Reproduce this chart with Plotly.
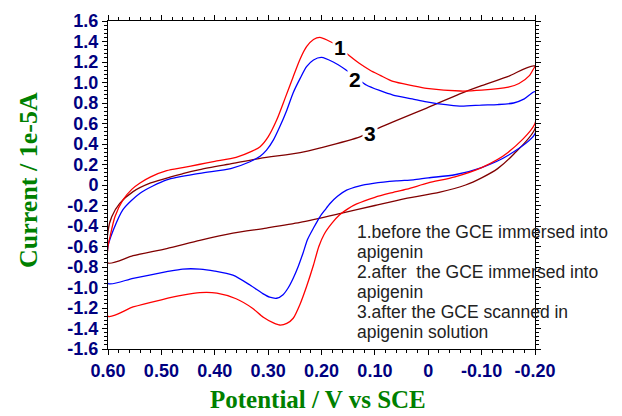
import plotly.graph_objects as go

# ---------------- data (potential in V vs SCE, current in 1e-5 A) ----------------
red_fwd_E = [0.6, 0.553, 0.5, 0.46, 0.428, 0.396, 0.36, 0.33, 0.309, 0.29, 0.278, 0.265, 0.253, 0.24,
             0.228, 0.215, 0.205, 0.195, 0.18, 0.166, 0.15, 0.134, 0.1, 0.072, 0.04, 0.0,
             -0.05, -0.1, -0.15, -0.2]
red_fwd_I = [-1.28, -1.19, -1.12, -1.075, -1.05, -1.055, -1.11, -1.2, -1.29, -1.345, -1.366, -1.35, -1.3,
             -1.16, -0.99, -0.78, -0.6, -0.48, -0.37, -0.29, -0.23, -0.185, -0.12, -0.08, -0.04, 0.02,
             0.08, 0.17, 0.32, 0.6]
red_rev_E = [-0.2, -0.19, -0.17, -0.15, -0.1, -0.06, 0.003, 0.03, 0.066, 0.09, 0.109, 0.13, 0.15, 0.17,
             0.188, 0.203, 0.215, 0.228, 0.24, 0.253, 0.268, 0.284, 0.3, 0.315, 0.33, 0.36, 0.4, 0.43,
             0.46, 0.49, 0.52, 0.54, 0.555, 0.572, 0.587, 0.596, 0.6]
red_rev_I = [1.15, 1.07, 0.99, 0.955, 0.925, 0.917, 0.943, 0.97, 1.01, 1.07, 1.12, 1.19, 1.27, 1.36,
             1.41, 1.44, 1.42, 1.35, 1.23, 1.057, 0.85, 0.634, 0.47, 0.374, 0.33, 0.27, 0.23, 0.2,
             0.17, 0.14, 0.08, 0.02, -0.04, -0.146, -0.31, -0.5, -0.6]

blue_fwd_E = [0.6, 0.553, 0.49, 0.46, 0.428, 0.4, 0.366, 0.334, 0.31, 0.297, 0.284, 0.272, 0.262, 0.253,
              0.244, 0.235, 0.226, 0.215, 0.203, 0.193, 0.184, 0.17, 0.153, 0.13, 0.103, 0.06, 0.028, 0.0,
              -0.05, -0.1, -0.15, -0.2]
blue_fwd_I = [-0.96, -0.91, -0.846, -0.82, -0.82, -0.84, -0.88, -0.976, -1.06, -1.095, -1.105, -1.07, -1.0,
              -0.91, -0.8, -0.67, -0.53, -0.42, -0.31, -0.24, -0.18, -0.11, -0.05, -0.01, 0.016, 0.04, 0.05,
              0.07, 0.1, 0.17, 0.29, 0.5]
blue_rev_E = [-0.2, -0.18, -0.16, -0.13, -0.1, -0.059, 0.003, 0.03, 0.066, 0.09, 0.116, 0.135, 0.156, 0.178,
              0.2, 0.215, 0.228, 0.24, 0.253, 0.265, 0.278, 0.29, 0.303, 0.315, 0.334, 0.37, 0.428,
              0.49, 0.54, 0.572, 0.59, 0.6]
blue_rev_I = [0.91, 0.84, 0.8, 0.785, 0.78, 0.77, 0.81, 0.84, 0.878, 0.92, 0.976, 1.05, 1.13, 1.2,
              1.245, 1.22, 1.154, 1.04, 0.9, 0.73, 0.57, 0.44, 0.34, 0.28, 0.227, 0.16, 0.114,
              0.05, -0.08, -0.24, -0.44, -0.6]

brown_fwd_E = [0.6, 0.553, 0.49, 0.428, 0.366, 0.303, 0.24, 0.166, 0.1, 0.05, -0.022, -0.07, -0.1,
               -0.13, -0.16, -0.2]
brown_fwd_I = [-0.76, -0.69, -0.62, -0.54, -0.47, -0.42, -0.365, -0.28, -0.2, -0.14, -0.07, 0.0, 0.07,
               0.16, 0.3, 0.55]
brown_rev_E = [-0.2, -0.15, -0.1, -0.059, 0.003, 0.05, 0.1, 0.128, 0.2, 0.24, 0.315, 0.366, 0.428,
               0.46, 0.52, 0.553, 0.578, 0.593, 0.6]
brown_rev_I = [1.16, 1.06, 0.97, 0.89, 0.75, 0.65, 0.54, 0.47, 0.365, 0.315, 0.26, 0.21, 0.15,
               0.11, 0.02, -0.065, -0.18, -0.31, -0.45]

x_tickvals = [0.6, 0.5, 0.4, 0.3, 0.2, 0.1, 0.0, -0.1, -0.2]
x_ticktext = ["0.60", "0.50", "0.40", "0.30", "0.20", "0.10", "0", "-0.10", "-0.20"]
y_tickvals = [1.6, 1.4, 1.2, 1.0, 0.8, 0.6, 0.4, 0.2, 0.0, -0.2, -0.4, -0.6, -0.8, -1.0, -1.2, -1.4, -1.6]
y_ticktext = ["1.6", "1.4", "1.2", "1.0", "0.8", "0.6", "0.4", "0.2", "0", "-0.2", "-0.4", "-0.6",
              "-0.8", "-1.0", "-1.2", "-1.4", "-1.6"]

legend_lines = ["1.before the GCE immersed into", "apigenin", "2.after  the GCE immersed into",
                "apigenin", "3.after the GCE scanned in", "apigenin solution"]

# ---------------- figure ----------------
fig = go.Figure()
series = [
    (brown_fwd_E, brown_fwd_I, brown_rev_E, brown_rev_I, "#800000"),
    (blue_fwd_E, blue_fwd_I, blue_rev_E, blue_rev_I, "#0000ff"),
    (red_fwd_E, red_fwd_I, red_rev_E, red_rev_I, "#ff0000"),
]
for fE, fI, rE, rI, col in series:
    fig.add_trace(go.Scatter(x=fE + rE + [fE[0]], y=fI + rI + [fI[0]], mode="lines",
                             line=dict(color=col, width=1.3, shape="spline", smoothing=0.7),
                             showlegend=False, hoverinfo="skip"))

tickfont = dict(family="Liberation Sans, Arial, sans-serif", size=18, color="#000080", weight="bold")
fig.update_xaxes(range=[0.6, -0.2], tickvals=x_tickvals, ticktext=x_ticktext, tickfont=tickfont,
                 ticks="outside", ticklen=5, tickcolor="black", showline=True, linecolor="black",
                 linewidth=1, mirror="allticks", showgrid=False, zeroline=False,
                 minor=dict(dtick=0.02, ticks="outside", ticklen=3, tickcolor="black", showgrid=False))
fig.update_yaxes(range=[-1.6, 1.6], tickvals=y_tickvals, ticktext=y_ticktext, tickfont=tickfont,
                 ticks="outside", ticklen=5, tickcolor="black", showline=True, linecolor="black",
                 linewidth=1, mirror="allticks", showgrid=False, zeroline=False,
                 minor=dict(dtick=0.04, ticks="outside", ticklen=3, tickcolor="black", showgrid=False))

ann = []
for txt, x, y in [("1", 0.1655, 1.337), ("2", 0.1375, 1.034), ("3", 0.1094, 0.507)]:
    ann.append(dict(x=x, y=y, xref="x", yref="y", text="<b>" + txt + "</b>", showarrow=False,
                    font=dict(family="Liberation Sans, Arial", size=21, color="black"),
                    bgcolor="white", borderpad=1))
for i, line in enumerate(legend_lines):
    ann.append(dict(x=(355 - 108) / 427.0, y=(349 - (232 + 20 * i)) / 328.0, xref="paper", yref="paper",
                    text=line, showarrow=False, xanchor="left", yanchor="middle",
                    font=dict(family="Liberation Sans, Arial", size=17.5, color="#222222")))

titlefont = dict(family="Liberation Serif, Times New Roman, serif", size=25, color="#008000")
ann.append(dict(x=(318 - 108) / 427.0, y=(349 - 399) / 328.0, xref="paper", yref="paper",
                text="<b>Potential / V vs SCE</b>", showarrow=False, xanchor="center", yanchor="middle",
                font=titlefont))
ann.append(dict(x=(28 - 108) / 427.0, y=(349 - 180) / 328.0, xref="paper", yref="paper",
                text="<b>Current / 1e-5A</b>", showarrow=False, xanchor="center", yanchor="middle",
                textangle=-90, font=dict(family="Liberation Serif, Times New Roman, serif", size=26,
                                         color="#008000")))

fig.update_layout(width=622, height=416, margin=dict(l=108, r=87, t=21, b=67),
                  paper_bgcolor="white", plot_bgcolor="white", annotations=ann)

fig.write_html("out.html")
